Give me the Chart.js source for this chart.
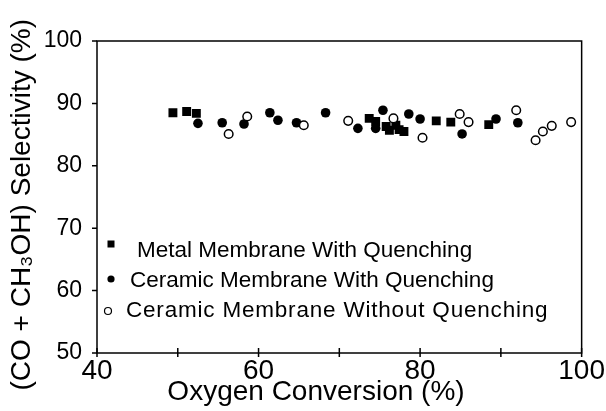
<!DOCTYPE html>
<html>
<head>
<meta charset="utf-8">
<script src="https://cdn.jsdelivr.net/npm/chart.js@4/dist/chart.umd.min.js"></script>
<style>
html,body{margin:0;padding:0;background:#fff;}
canvas{display:block;}
</style>
</head>
<body>
<canvas id="c" width="606" height="411"></canvas>
<script>
// ---- data ----
const seriesLabels = [
  "Metal Membrane With Quenching",
  "Ceramic Membrane With Quenching",
  "Ceramic Membrane Without Quenching"
];
const metalX = [49.4, 51.1, 52.3, 73.7, 74.5, 75.8, 76.2, 77.0, 77.4, 78.0, 82.0, 83.8, 88.5];
const metalY = [88.5, 88.7, 88.4, 87.6, 87.1, 86.3, 85.7, 86.5, 85.8, 85.5, 87.2, 87.0, 86.6];
const ceramicQX = [52.5, 55.5, 58.2, 61.4, 62.4, 64.7, 68.3, 72.3, 74.5, 75.4, 78.6, 80.0, 85.2, 89.4, 92.1];
const ceramicQY = [86.8, 86.9, 86.7, 88.5, 87.3, 86.9, 88.5, 86.0, 86.0, 88.9, 88.3, 87.5, 85.1, 87.5, 86.9];
const ceramicNX = [56.3, 58.6, 65.6, 71.1, 76.7, 80.3, 84.9, 86.0, 91.9, 94.3, 95.2, 96.3, 98.7];
const ceramicNY = [85.1, 87.9, 86.5, 87.2, 87.6, 84.5, 88.3, 87.0, 88.9, 84.1, 85.5, 86.4, 87.0];
const xTickValues = [40, 60, 80, 100];
const yTickValues = [50, 60, 70, 80, 90, 100];
const xTitle = "Oxygen Conversion (%)";
const yTitle = "(CO + CH\u2083OH) Selectivity (%)";

const pts = (xs, ys) => xs.map((x, i) => ({x: x, y: ys[i]}));
const FONT = "'Liberation Sans', Arial, Helvetica, sans-serif";

const framePlugin = {
  id: 'frame',
  afterDraw(chart) {
    const ctx = chart.ctx, a = chart.chartArea;
    const xs = chart.scales.x, ys = chart.scales.y;
    ctx.save();
    ctx.strokeStyle = '#000';
    ctx.lineWidth = 1.5;
    ctx.strokeRect(a.left, a.top, a.right - a.left, a.bottom - a.top);
    ctx.beginPath();
    for (let v = 50; v <= 100; v += 10) {
      const y = ys.getPixelForValue(v);
      ctx.moveTo(a.left - 5, y); ctx.lineTo(a.left, y);
    }
    for (let v = 40; v <= 100; v += 10) {
      const x = xs.getPixelForValue(v);
      ctx.moveTo(x, a.bottom - 5); ctx.lineTo(x, a.bottom + 4);
    }
    ctx.stroke();
    ctx.restore();
  }
};

const legendPlugin = {
  id: 'innerLegend',
  afterDraw(chart) {
    const ctx = chart.ctx;
    const ys = [251, 281, 311];
    const textX = [137, 130, 126];
    const spacing = ['0px', '0px', '0.8px'];
    ctx.save();
    ctx.font = '22.5px ' + FONT;
    ctx.fillStyle = '#000';
    ctx.textBaseline = 'middle';
    ctx.textAlign = 'left';
    chart.data.datasets.forEach((ds, i) => {
      const y = ys[i];
      const mx = 111;
      ctx.beginPath();
      if (i === 0) {
        ctx.fillRect(mx - 3.5, y - 7 - 3.5, 7, 7);
      } else if (i === 1) {
        ctx.arc(mx, y - 2, 3.6, 0, Math.PI * 2);
        ctx.fill();
      } else {
        ctx.lineWidth = 1.2;
        ctx.strokeStyle = '#000';
        ctx.arc(mx - 3, y, 3.5, 0, Math.PI * 2);
        ctx.stroke();
      }
      if ('letterSpacing' in ctx) ctx.letterSpacing = spacing[i];
      ctx.fillText(ds.label, textX[i], y);
    });
    ctx.restore();
  }
};

new Chart(document.getElementById('c'), {
  type: 'scatter',
  data: {
    datasets: [
      {
        label: seriesLabels[0],
        data: pts(metalX, metalY),
        pointStyle: 'rect',
        pointRadius: 6.3,
        backgroundColor: '#000',
        borderColor: '#000',
        borderWidth: 0,
        order: 2
      },
      {
        label: seriesLabels[1],
        data: pts(ceramicQX, ceramicQY),
        pointStyle: 'circle',
        pointRadius: 4.8,
        backgroundColor: '#000',
        borderColor: '#000',
        borderWidth: 0,
        order: 1
      },
      {
        label: seriesLabels[2],
        data: pts(ceramicNX, ceramicNY),
        pointStyle: 'circle',
        pointRadius: 4.3,
        backgroundColor: '#fff',
        borderColor: '#000',
        borderWidth: 1.5,
        order: 0
      }
    ]
  },
  options: {
    responsive: false,
    animation: false,
    devicePixelRatio: 1,
    layout: {padding: {top: 41, right: 23, left: 0, bottom: 0}},
    plugins: {legend: {display: false}, tooltip: {enabled: false}},
    scales: {
      x: {
        type: 'linear',
        min: 40, max: 100,
        afterBuildTicks: (s) => { s.ticks = xTickValues.map(v => ({value: v})); },
        afterFit: (s) => { s.height = 58; },
        grid: {display: false, drawTicks: false},
        border: {display: false},
        ticks: {color: '#000', font: {family: FONT, size: 28}, padding: 1, maxRotation: 0, autoSkip: false},
        title: {display: true, text: xTitle + '      ', color: '#000', font: {family: FONT, size: 28}, padding: {top: 0, bottom: 2}}
      },
      y: {
        type: 'linear',
        min: 50, max: 100,
        afterBuildTicks: (s) => { s.ticks = yTickValues.map(v => ({value: v})); },
        afterFit: (s) => { s.width = 97; },
        grid: {display: false, drawTicks: false},
        border: {display: false},
        ticks: {color: '#000', font: {family: FONT, size: 23}, padding: 15, autoSkip: false},
        title: {display: true, text: yTitle + '  ', color: '#000', font: {family: FONT, size: 28}, padding: {top: 5, bottom: 0}}
      }
    }
  },
  plugins: [framePlugin, legendPlugin]
});
</script>
</body>
</html>
